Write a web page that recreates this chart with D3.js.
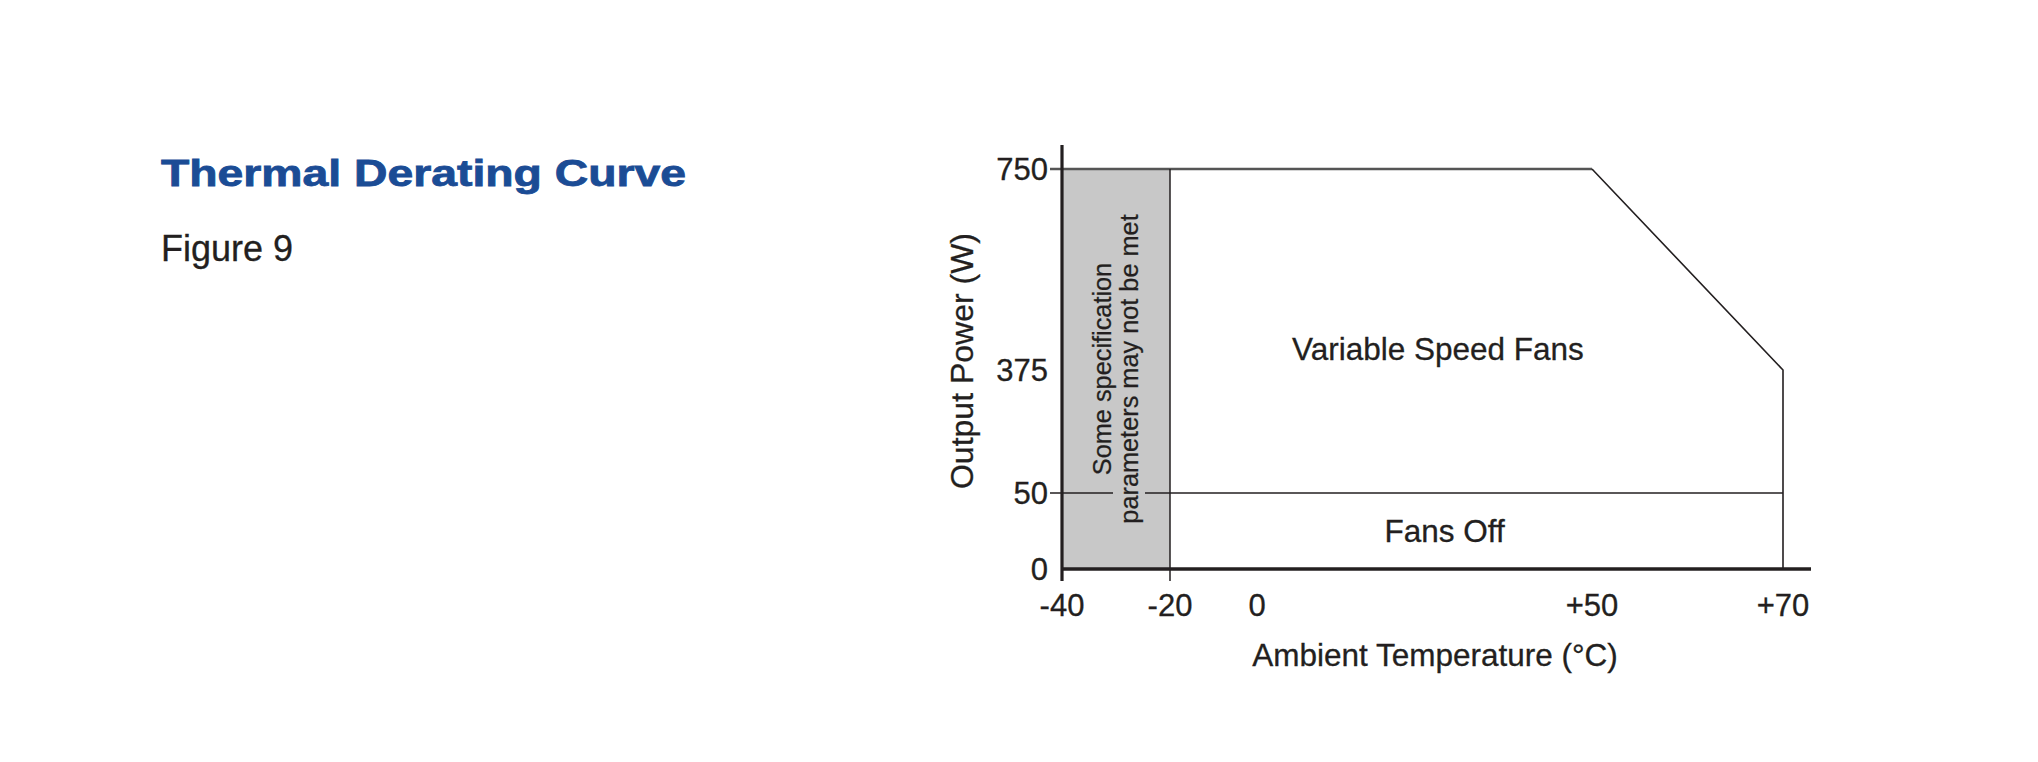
<!DOCTYPE html>
<html>
<head>
<meta charset="utf-8">
<script src="https://cdn.jsdelivr.net/npm/d3@7"></script>
<style>
  html, body { margin: 0; padding: 0; background: #ffffff; }
  svg { display: block; }
  text { font-family: "Liberation Sans", Arial, Helvetica, sans-serif; }
</style>
</head>
<body>
<svg id="chart" width="2038" height="762"></svg>
<script>
// ---- data ----
const xTicks = [-40, -20, 0, 50, 70];
const xTickLabels = ["-40", "-20", "0", "+50", "+70"];
const yTicks = [0, 50, 375, 750];
const yTickLabels = ["0", "50", "375", "750"];
const deratingTemp = [-40, 50, 70, 70];
const deratingPower = [750, 750, 375, 0];
const fansOffPower = 50;
const warnZoneTemp = [-40, -20];
const warnZoneText = ["Some specification", "parameters may not be met"];
const regionLabels = ["Variable Speed Fans", "Fans Off"];
const regionLabelTemp = [27, 28];
const regionLabelPower = [415, 25];
const titleText = "Thermal Derating Curve";
const subtitleText = "Figure 9";
const xTitle = "Ambient Temperature (°C)";
const yTitle = "Output Power (W)";

// ---- layout ----
const svg = d3.select("#chart");
const ink = "#231f20";
// the printed axes are not uniformly spaced: piecewise scales
const x = d3.scaleLinear().domain(xTicks).range([1062, 1170, 1257, 1592, 1783]);
const y = d3.scaleLinear().domain(yTicks).range([569, 493, 370, 169]);
const over = 12;

// title
svg.append("text").attr("x", 161).attr("y", 186)
  .attr("font-size", 36).attr("font-weight", "bold").attr("fill", "#1b4c95")
  .attr("stroke", "#1b4c95").attr("stroke-width", 0.8)
  .attr("textLength", 525).attr("lengthAdjust", "spacingAndGlyphs")
  .text(titleText);
svg.append("text").attr("x", 161).attr("y", 261)
  .attr("font-size", 36).attr("fill", ink)
  .attr("stroke", ink).attr("stroke-width", 0.3)
  .text(subtitleText);

// grey zone
svg.append("rect")
  .attr("x", x(warnZoneTemp[0])).attr("y", y(750))
  .attr("width", x(warnZoneTemp[1]) - x(warnZoneTemp[0]))
  .attr("height", y(0) - y(750))
  .attr("fill", "#c8c8c8");

// top (750 W) line and derating curve
const line = d3.line().x(d => x(d[0])).y(d => y(d[1]));
const pts = deratingTemp.map((t, i) => [t, deratingPower[i]]);
svg.append("line")
  .attr("x1", x(-40) - over).attr("x2", x(deratingTemp[1]))
  .attr("y1", y(750)).attr("y2", y(750))
  .attr("stroke", "#555").attr("stroke-width", 2.4);
svg.append("path").datum(pts.slice(1))
  .attr("d", line).attr("fill", "none")
  .attr("stroke", ink).attr("stroke-width", 1.6);

// fans-off threshold line
svg.append("line")
  .attr("x1", x(-40) - over).attr("x2", x(70))
  .attr("y1", y(fansOffPower)).attr("y2", y(fansOffPower))
  .attr("stroke", ink).attr("stroke-width", 1.5);

// -20 boundary
svg.append("line")
  .attr("x1", x(warnZoneTemp[1])).attr("x2", x(warnZoneTemp[1]))
  .attr("y1", y(750)).attr("y2", y(0) + over)
  .attr("stroke", ink).attr("stroke-width", 1.5);

// rotated warning text
const cx = (x(warnZoneTemp[0]) + x(warnZoneTemp[1])) / 2;
const cy = (y(0) + y(750)) / 2;
const wg = svg.append("g").attr("transform", `translate(${cx},${cy}) rotate(-90)`);
const offs = [-14, 13];
warnZoneText.forEach((t, i) => {
  const tx = wg.append("text").attr("x", 0).attr("y", offs[i])
    .attr("text-anchor", "middle").attr("dominant-baseline", "central")
    .attr("font-size", 25.3).attr("fill", ink)
    .attr("stroke", ink).attr("stroke-width", 0.25).text(t);
  if (i === 1) {
    const bb = tx.node().getBBox();
    wg.insert("rect", "text")
      .attr("x", bb.x).attr("y", bb.y - 2)
      .attr("width", bb.width).attr("height", bb.height + 4)
      .attr("fill", "#c8c8c8");
  }
});

// axes
svg.append("line")
  .attr("x1", x(-40)).attr("x2", x(-40))
  .attr("y1", y(750) - 24).attr("y2", y(0) + over)
  .attr("stroke", ink).attr("stroke-width", 3.2);
svg.append("line")
  .attr("x1", x(-40)).attr("x2", x(70) + 28)
  .attr("y1", y(0)).attr("y2", y(0))
  .attr("stroke", ink).attr("stroke-width", 3.4);

// tick labels
svg.append("g").selectAll("text").data(xTicks).join("text")
  .attr("x", d => x(d)).attr("y", 616)
  .attr("text-anchor", "middle").attr("font-size", 31).attr("fill", ink)
  .attr("stroke", ink).attr("stroke-width", 0.3)
  .text((d, i) => xTickLabels[i]);
svg.append("g").selectAll("text").data(yTicks).join("text")
  .attr("x", x(-40) - 14).attr("y", d => y(d))
  .attr("text-anchor", "end").attr("dominant-baseline", "central")
  .attr("font-size", 31).attr("fill", ink)
  .attr("stroke", ink).attr("stroke-width", 0.3)
  .text((d, i) => yTickLabels[i]);

// region labels
svg.append("g").selectAll("text").data(regionLabels).join("text")
  .attr("x", (d, i) => x(regionLabelTemp[i]))
  .attr("y", (d, i) => y(regionLabelPower[i]))
  .attr("text-anchor", "middle").attr("dominant-baseline", "central")
  .attr("font-size", 31.5).attr("fill", ink)
  .attr("stroke", ink).attr("stroke-width", 0.3)
  .text(d => d);

// axis titles
svg.append("text").attr("x", 1435).attr("y", 666)
  .attr("text-anchor", "middle").attr("font-size", 31.5).attr("fill", ink)
  .attr("stroke", ink).attr("stroke-width", 0.3)
  .text(xTitle);
svg.append("text")
  .attr("transform", `translate(962,${(y(0) + y(750)) / 2 - 8}) rotate(-90)`)
  .attr("text-anchor", "middle").attr("dominant-baseline", "central")
  .attr("font-size", 32).attr("fill", ink)
  .attr("stroke", ink).attr("stroke-width", 0.3)
  .text(yTitle);
</script>
</body>
</html>
